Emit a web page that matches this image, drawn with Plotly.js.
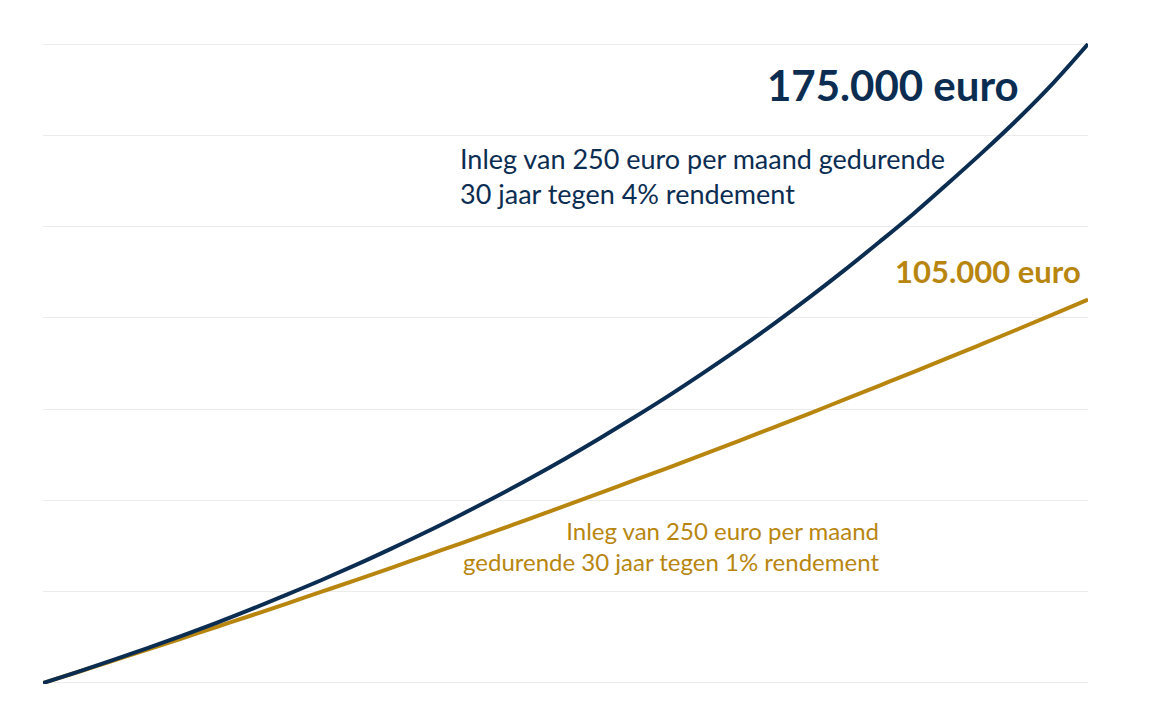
<!DOCTYPE html>
<html>
<head>
<meta charset="utf-8">
<script src="https://cdn.plot.ly/plotly-3.0.1.min.js"></script>
<style>html,body{margin:0;padding:0;background:#fff;}#chart{width:1164px;height:718px;}</style>
</head>
<body>
<div id="chart"></div>
<script>
const years = [0,1,2,3,4,5,6,7,8,9,10,11,12,13,14,15,16,17,18,19,20,21,22,23,24,25,26,27,28,29,30];
const value4pct = [0,3050,6250,9550,13000,16550,20300,24200,28200,32400,36800,41350,46100,51000,56150,61500,67100,72900,78900,85200,91700,98500,105600,113000,120700,128600,137000,145600,154600,164300,175000];
const value1pct = [0,3000,6050,9150,12250,15400,18550,21750,25000,28250,31550,34900,38250,41650,45100,48550,52050,55600,59150,62750,66400,70100,73800,77600,81400,85200,89100,93000,96950,100950,105000];
const labelTop = "175.000 euro";
const labelTopDesc = "Inleg van 250 euro per maand gedurende<br>30 jaar tegen 4% rendement";
const labelLow = "105.000 euro";
const labelLowDesc = "Inleg van 250 euro per maand<br>gedurende 30 jaar tegen 1% rendement";

const blue = "#0c2d52";
const gold = "#b8860f";
const font = "Lato, 'Open Sans', sans-serif";

const traces = [
  {x: years, y: value1pct, type: 'scatter', mode: 'lines', line: {color: gold, width: 4, shape: 'spline'}, hoverinfo: 'skip', cliponaxis: false},
  {x: years, y: value4pct, type: 'scatter', mode: 'lines', line: {color: blue, width: 4, shape: 'spline'}, hoverinfo: 'skip', cliponaxis: false}
];

const layout = {
  width: 1164, height: 718,
  margin: {l: 43, r: 76, t: 43, b: 34},
  paper_bgcolor: '#fff', plot_bgcolor: '#fff',
  showlegend: false,
  xaxis: {range: [0, 30], showgrid: false, zeroline: false, showticklabels: false, ticks: '', showline: false, fixedrange: true},
  yaxis: {range: [-280, 175280], dtick: 25000, tick0: 0, showgrid: true, gridcolor: '#ececec', gridwidth: 1, zeroline: false, showticklabels: false, ticks: '', showline: false, fixedrange: true},
  annotations: [
    {text: labelTop, xref: 'paper', yref: 'paper', x: 0.691, y: 0.934, xanchor: 'left', yanchor: 'middle', showarrow: false, font: {family: font, size: 42, color: blue, weight: 'bold'}},
    {text: labelTopDesc, xref: 'paper', yref: 'paper', x: 0.397, y: 0.792, xanchor: 'left', yanchor: 'middle', align: 'left', showarrow: false, font: {family: font, size: 27, color: blue}},
    {text: labelLow, xref: 'paper', yref: 'paper', x: 0.813, y: 0.645, xanchor: 'left', yanchor: 'middle', showarrow: false, font: {family: font, size: 31, color: gold, weight: 'bold'}},
    {text: labelLowDesc, xref: 'paper', yref: 'paper', x: 0.802, y: 0.216, xanchor: 'right', yanchor: 'middle', align: 'right', showarrow: false, font: {family: font, size: 24, color: gold}}
  ]
};

Plotly.newPlot('chart', traces, layout, {displayModeBar: false, staticPlot: true});
</script>
</body>
</html>
